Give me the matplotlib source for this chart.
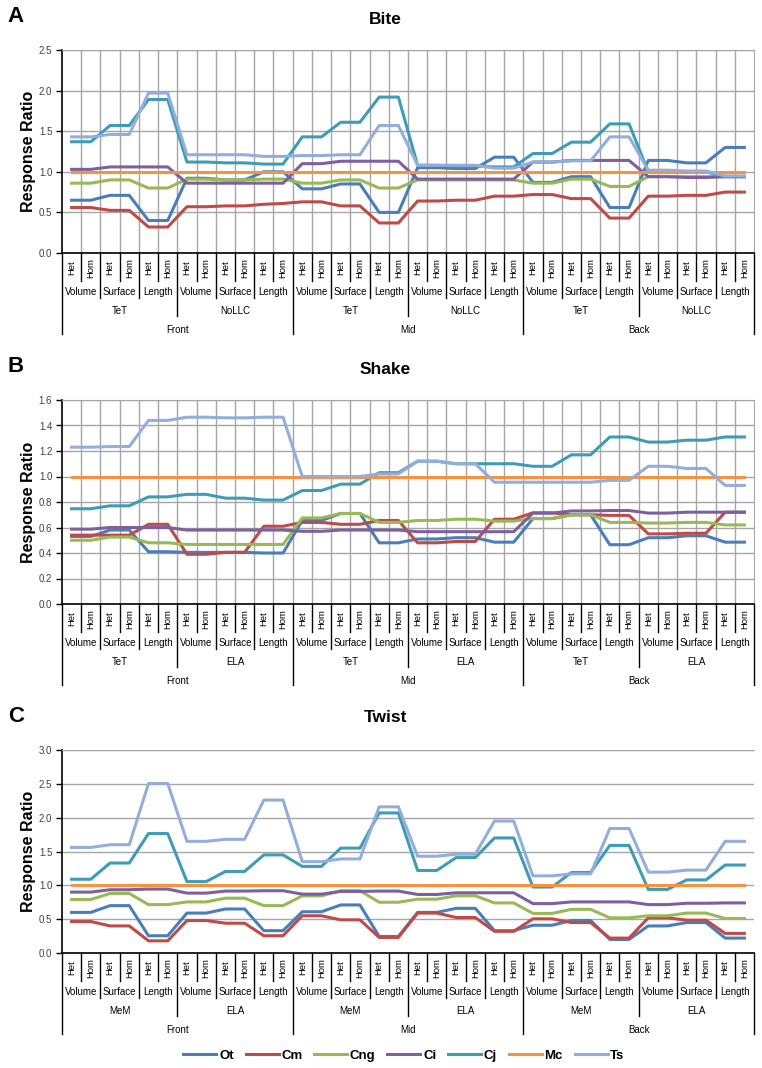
import matplotlib
matplotlib.use("Agg")
import matplotlib.pyplot as plt
import matplotlib.transforms as mtransforms
from matplotlib.lines import Line2D
import numpy as np

plt.rcParams['font.family'] = ['Liberation Sans', 'DejaVu Sans']

# ---- data -------------------------------------------------------------
series = ['Ot', 'Cm', 'Cng', 'Ci', 'Cj', 'Mc', 'Ts']
colors = ['#4A7EBB', '#BE4B48', '#98B954', '#7D60A0', '#3E9DB5', '#F69240', '#93AEDB']

replicates = ['Het', 'Hom']
measures = ['Volume', 'Surface', 'Length']
positions = ['Front', 'Mid', 'Back']
groups_bite = ['TeT', 'NoLLC']
groups_shake = ['TeT', 'ELA']
groups_twist = ['MeM', 'ELA']

bite_Ot = [0.65, 0.65, 0.71, 0.71, 0.40, 0.40, 0.92, 0.92, 0.90, 0.90, 1.00, 1.00,
           0.79, 0.79, 0.85, 0.85, 0.50, 0.50, 1.05, 1.05, 1.04, 1.04, 1.18, 1.18,
           0.87, 0.87, 0.94, 0.94, 0.56, 0.56, 1.14, 1.14, 1.11, 1.11, 1.30, 1.30]
bite_Cm = [0.56, 0.56, 0.525, 0.525, 0.32, 0.32, 0.57, 0.57, 0.58, 0.58, 0.60, 0.61,
           0.63, 0.63, 0.58, 0.58, 0.37, 0.37, 0.64, 0.64, 0.65, 0.65, 0.70, 0.70,
           0.72, 0.72, 0.67, 0.67, 0.43, 0.43, 0.70, 0.70, 0.71, 0.71, 0.75, 0.75]
bite_Cng = [0.86, 0.86, 0.90, 0.90, 0.80, 0.80, 0.91, 0.91, 0.90, 0.90, 0.91, 0.91,
            0.86, 0.86, 0.90, 0.90, 0.80, 0.80, 0.90, 0.90, 0.90, 0.90, 0.90, 0.90,
            0.86, 0.86, 0.91, 0.91, 0.82, 0.82, 0.94, 0.94, 0.94, 0.94, 0.94, 0.94]
bite_Ci = [1.03, 1.03, 1.06, 1.06, 1.06, 1.06, 0.86, 0.86, 0.86, 0.86, 0.86, 0.86,
           1.10, 1.10, 1.13, 1.13, 1.13, 1.13, 0.91, 0.91, 0.91, 0.91, 0.91, 0.91,
           1.12, 1.12, 1.14, 1.14, 1.14, 1.14, 0.94, 0.94, 0.93, 0.93, 0.94, 0.94]
bite_Cj = [1.37, 1.37, 1.57, 1.57, 1.89, 1.89, 1.12, 1.12, 1.11, 1.11, 1.095, 1.095,
           1.43, 1.43, 1.61, 1.61, 1.92, 1.92, 1.08, 1.08, 1.07, 1.07, 1.06, 1.06,
           1.225, 1.225, 1.365, 1.365, 1.59, 1.59, 1.00, 1.00, 1.00, 1.00, 0.94, 0.94]
bite_Mc = [1.0] * 36
bite_Ts = [1.43, 1.43, 1.46, 1.46, 1.97, 1.97, 1.21, 1.21, 1.21, 1.21, 1.19, 1.19,
           1.20, 1.20, 1.21, 1.21, 1.57, 1.57, 1.08, 1.08, 1.08, 1.08, 1.045, 1.045,
           1.12, 1.12, 1.135, 1.135, 1.43, 1.43, 1.02, 1.02, 1.01, 1.01, 0.95, 0.95]

shake_Ot = [0.53, 0.53, 0.58, 0.58, 0.41, 0.41, 0.405, 0.405, 0.405, 0.405, 0.40, 0.40,
            0.655, 0.655, 0.71, 0.71, 0.48, 0.48, 0.51, 0.51, 0.52, 0.52, 0.485, 0.485,
            0.67, 0.67, 0.70, 0.70, 0.465, 0.465, 0.52, 0.52, 0.535, 0.535, 0.485, 0.485]
shake_Cm = [0.54, 0.54, 0.54, 0.54, 0.625, 0.625, 0.39, 0.39, 0.405, 0.405, 0.61, 0.61,
            0.64, 0.64, 0.625, 0.625, 0.655, 0.655, 0.48, 0.48, 0.49, 0.49, 0.665, 0.665,
            0.715, 0.715, 0.70, 0.70, 0.695, 0.695, 0.55, 0.55, 0.555, 0.555, 0.72, 0.72]
shake_Cng = [0.50, 0.50, 0.525, 0.525, 0.48, 0.48, 0.467, 0.467, 0.467, 0.467, 0.467, 0.467,
             0.675, 0.675, 0.71, 0.71, 0.64, 0.64, 0.655, 0.655, 0.665, 0.665, 0.65, 0.65,
             0.67, 0.67, 0.70, 0.70, 0.64, 0.64, 0.635, 0.635, 0.64, 0.64, 0.62, 0.62]
shake_Ci = [0.587, 0.587, 0.60, 0.60, 0.60, 0.60, 0.58, 0.58, 0.58, 0.58, 0.58, 0.58,
            0.57, 0.57, 0.58, 0.58, 0.58, 0.58, 0.567, 0.567, 0.567, 0.567, 0.567, 0.567,
            0.713, 0.713, 0.73, 0.73, 0.733, 0.733, 0.713, 0.713, 0.72, 0.72, 0.72, 0.72]
shake_Cj = [0.747, 0.747, 0.77, 0.77, 0.84, 0.84, 0.86, 0.86, 0.83, 0.83, 0.815, 0.815,
            0.89, 0.89, 0.94, 0.94, 1.03, 1.03, 1.12, 1.12, 1.10, 1.10, 1.10, 1.10,
            1.08, 1.08, 1.17, 1.17, 1.31, 1.31, 1.27, 1.27, 1.285, 1.285, 1.31, 1.31]
shake_Mc = [1.0] * 36
shake_Ts = [1.23, 1.23, 1.235, 1.235, 1.44, 1.44, 1.465, 1.465, 1.46, 1.46, 1.465, 1.465,
            1.00, 1.00, 1.00, 1.00, 1.02, 1.02, 1.12, 1.12, 1.10, 1.10, 0.955, 0.955,
            0.955, 0.955, 0.955, 0.955, 0.97, 0.97, 1.08, 1.08, 1.063, 1.063, 0.93, 0.93]

twist_Ot = [0.60, 0.60, 0.70, 0.70, 0.255, 0.255, 0.59, 0.59, 0.65, 0.65, 0.33, 0.33,
            0.61, 0.61, 0.71, 0.71, 0.245, 0.245, 0.60, 0.60, 0.66, 0.66, 0.33, 0.33,
            0.41, 0.41, 0.48, 0.48, 0.20, 0.20, 0.40, 0.40, 0.45, 0.45, 0.22, 0.22]
twist_Cm = [0.465, 0.465, 0.40, 0.40, 0.18, 0.18, 0.48, 0.48, 0.44, 0.44, 0.255, 0.255,
            0.55, 0.55, 0.49, 0.49, 0.23, 0.23, 0.59, 0.59, 0.525, 0.525, 0.32, 0.32,
            0.505, 0.505, 0.45, 0.45, 0.22, 0.22, 0.52, 0.52, 0.485, 0.485, 0.29, 0.29]
twist_Cng = [0.79, 0.79, 0.88, 0.88, 0.715, 0.715, 0.755, 0.755, 0.81, 0.81, 0.70, 0.70,
             0.845, 0.845, 0.92, 0.92, 0.75, 0.75, 0.795, 0.795, 0.845, 0.845, 0.74, 0.74,
             0.585, 0.585, 0.645, 0.645, 0.52, 0.52, 0.55, 0.55, 0.59, 0.59, 0.51, 0.51]
twist_Ci = [0.90, 0.90, 0.935, 0.935, 0.945, 0.945, 0.885, 0.885, 0.915, 0.915, 0.92, 0.92,
            0.87, 0.87, 0.91, 0.91, 0.915, 0.915, 0.865, 0.865, 0.89, 0.89, 0.89, 0.89,
            0.73, 0.73, 0.755, 0.755, 0.755, 0.755, 0.715, 0.715, 0.735, 0.735, 0.74, 0.74]
twist_Cj = [1.09, 1.09, 1.33, 1.33, 1.765, 1.765, 1.055, 1.055, 1.205, 1.205, 1.45, 1.45,
            1.28, 1.28, 1.55, 1.55, 2.07, 2.07, 1.22, 1.22, 1.41, 1.41, 1.70, 1.70,
            0.975, 0.975, 1.19, 1.19, 1.59, 1.59, 0.94, 0.94, 1.08, 1.08, 1.30, 1.30]
twist_Mc = [1.0] * 36
twist_Ts = [1.56, 1.56, 1.60, 1.60, 2.505, 2.505, 1.65, 1.65, 1.68, 1.68, 2.26, 2.26,
            1.35, 1.35, 1.39, 1.39, 2.16, 2.16, 1.43, 1.43, 1.46, 1.46, 1.95, 1.95,
            1.14, 1.14, 1.17, 1.17, 1.84, 1.84, 1.195, 1.195, 1.225, 1.225, 1.65, 1.65]

bite = [bite_Ot, bite_Cm, bite_Cng, bite_Ci, bite_Cj, bite_Mc, bite_Ts]
shake = [shake_Ot, shake_Cm, shake_Cng, shake_Ci, shake_Cj, shake_Mc, shake_Ts]
twist = [twist_Ot, twist_Cm, twist_Cng, twist_Ci, twist_Cj, twist_Mc, twist_Ts]

# ---- figure -----------------------------------------------------------
W, H = 762, 1068
fig = plt.figure(figsize=(W / 100, H / 100), dpi=100)
GRID = '#A6A6A6'


def panel(top, bottom, data, ymax, ystep, groups, letter, title, title_y, vgrid):
    left, right = 62, 754
    ax = fig.add_axes([left / W, 1 - bottom / H, (right - left) / W, (bottom - top) / H])
    hpx = bottom - top
    x = np.arange(36)
    for vals, c in zip(data, colors):
        ax.plot(x, vals, color=c, lw=2.2, zorder=3)
    ax.set_xlim(-0.5, 35.5)
    ax.set_ylim(0, ymax)
    ticks = np.arange(0, ymax + 1e-6, ystep)
    ax.set_yticks(ticks)
    ax.set_yticklabels(['%.1f' % t for t in ticks])
    ax.set_xticks([])
    ax.tick_params(axis='y', direction='out', length=4, width=1, labelsize=7,
                   labelcolor='#404040', pad=3)
    ax.yaxis.grid(True, color=GRID, lw=1.0, zorder=0)
    ax.set_axisbelow(True)
    if vgrid:
        for k in range(1, 36):
            ax.axvline(k - 0.5, color=GRID, lw=1.0, zorder=0)
        ax.spines['right'].set_color(GRID)
    else:
        ax.spines['right'].set_visible(False)
    ax.spines['top'].set_color(GRID)
    ax.spines['left'].set_linewidth(1.2)
    ax.spines['bottom'].set_linewidth(1.2)

    # category table under the axis
    tr = mtransforms.blended_transform_factory(ax.transData, ax.transAxes)

    def yo(px):
        return -px / hpx

    for i in range(36):
        ax.text(i, yo(15), replicates[i % 2], rotation=90, ha='center', va='center',
                fontsize=6.8, transform=tr)
    for k in range(37):
        if k % 12 == 0:
            d = 81
        elif k % 6 == 0:
            d = 63
        elif k % 2 == 0:
            d = 45
        else:
            d = 28
        ax.plot([k - 0.5, k - 0.5], [0, yo(d)], color='black', lw=1.0,
                transform=tr, clip_on=False)
    for j in range(18):
        ax.text(2 * j + 0.5, yo(39), measures[j % 3], ha='center', va='center',
                fontsize=7, transform=tr)
    for g in range(6):
        ax.text(6 * g + 2.5, yo(58), groups[g % 2], ha='center', va='center',
                fontsize=7, transform=tr)
    for p in range(3):
        ax.text(12 * p + 5.5, yo(77), positions[p], ha='center', va='center',
                fontsize=7, transform=tr)

    ax.set_ylabel('Response Ratio', fontsize=11.5, fontweight='bold')
    ax.yaxis.set_label_coords(-(left - 36) / (right - left), 0.5)
    fig.text(16 / W, 1 - (title_y - 2) / H, letter, fontsize=16, fontweight='bold',
             ha='center', va='center')
    fig.text(385 / W, 1 - title_y / H, title, fontsize=12.5, fontweight='bold',
             ha='center', va='center')
    return ax


panel(50, 253, bite, 2.5, 0.5, groups_bite, 'A', 'Bite', 19, True)
panel(400, 604, shake, 1.6, 0.2, groups_shake, 'B', 'Shake', 369, True)
panel(750, 953, twist, 3.0, 0.5, groups_twist, 'C', 'Twist', 718, False)

handles = [Line2D([], [], color=c, lw=2.2) for c in colors]
fig.legend(handles, series, loc='center', bbox_to_anchor=(404 / W, 1 - 1056 / H),
           ncol=7, frameon=False, handlelength=2.5, handletextpad=0.2,
           columnspacing=0.9, prop={'weight': 'bold', 'size': 9.5})

fig.savefig('out.png', dpi=100)
